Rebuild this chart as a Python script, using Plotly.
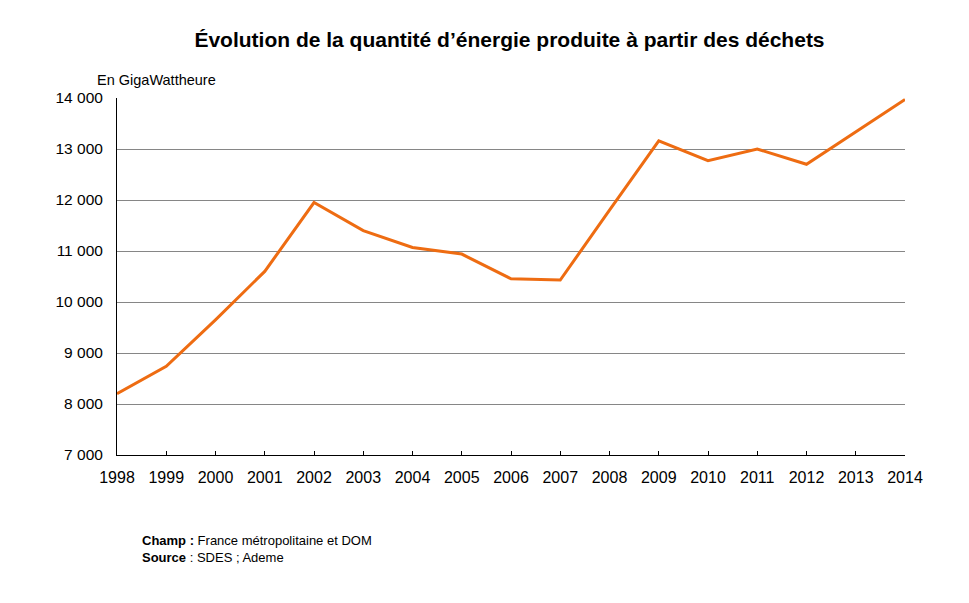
import plotly.graph_objects as go

# Données (GWh)
annees = list(range(1998, 2015))
energie = [8200, 8740, 9650, 10600, 11950, 11400, 11070, 10940, 10455,
           10430, 11800, 13160, 12770, 13000, 12700, 13335, 13970]
y_ticks = [7000, 8000, 9000, 10000, 11000, 12000, 13000, 14000]

W, H = 969, 603
OFF = 8  # la page décale la figure de 8 px
# bords de la zone de tracé, en px à l'écran
X0, X1, Y0, Y1 = 117, 905, 98, 455
L, R, T, B = X0 - OFF, W - (X1 - OFF), Y0 - OFF, H - (Y1 - OFF)
PW, PH = X1 - X0, Y1 - Y0

font = "Liberation Sans, Arial, sans-serif"

fig = go.Figure()
fig.add_trace(go.Scatter(
    x=annees, y=energie, mode="lines",
    line=dict(color="#EE6C12", width=3),
    hoverinfo="x+y", showlegend=False,
))

fig.update_layout(
    width=W, height=H,
    margin=dict(l=L, r=R, t=T, b=B),
    paper_bgcolor="white", plot_bgcolor="white",
    separators=", ",
    font=dict(family=font, color="black", size=15),
    title=dict(
        text="<b>Évolution de la quantité d’énergie produite à partir des déchets</b>",
        x=((193 + 826) / 2 - OFF) / W, xanchor="center",
        y=1 - (40 - OFF) / H, yanchor="middle",
        font=dict(size=21, family=font, color="black"),
    ),
    xaxis=dict(
        range=[1998, 2014], tickmode="array", tickvals=annees,
        showgrid=False, zeroline=False,
        showline=True, linecolor="black", linewidth=1,
        ticks="inside", ticklen=4, tickcolor="black",
        ticklabelstandoff=8,
        tickfont=dict(size=16), fixedrange=True,
    ),
    yaxis=dict(
        range=[7000, 14000], tickmode="array", tickvals=y_ticks,
        tickformat=",d",
        showgrid=True, gridcolor="#868686", gridwidth=1,
        zeroline=False, showline=True, linecolor="black", linewidth=1,
        ticks="", ticklabelstandoff=10,
        tickfont=dict(size=15.5), fixedrange=True,
    ),
)

fig.add_annotation(
    text="En GigaWattheure", xref="paper", yref="paper",
    x=(95 - X0) / PW, y=1 + (Y0 - 80) / PH,
    xanchor="left", yanchor="middle", showarrow=False,
    font=dict(size=14.5, family=font, color="black"),
)
fig.add_annotation(
    text="<b>Champ :</b> France métropolitaine et DOM<br><b>Source</b> : SDES ; Ademe",
    xref="paper", yref="paper",
    x=(140 - X0) / PW, y=-(531 - Y1) / PH,
    xanchor="left", yanchor="top", align="left", showarrow=False,
    font=dict(size=13, family=font, color="black"),
)

fig.write_html("out.html")
